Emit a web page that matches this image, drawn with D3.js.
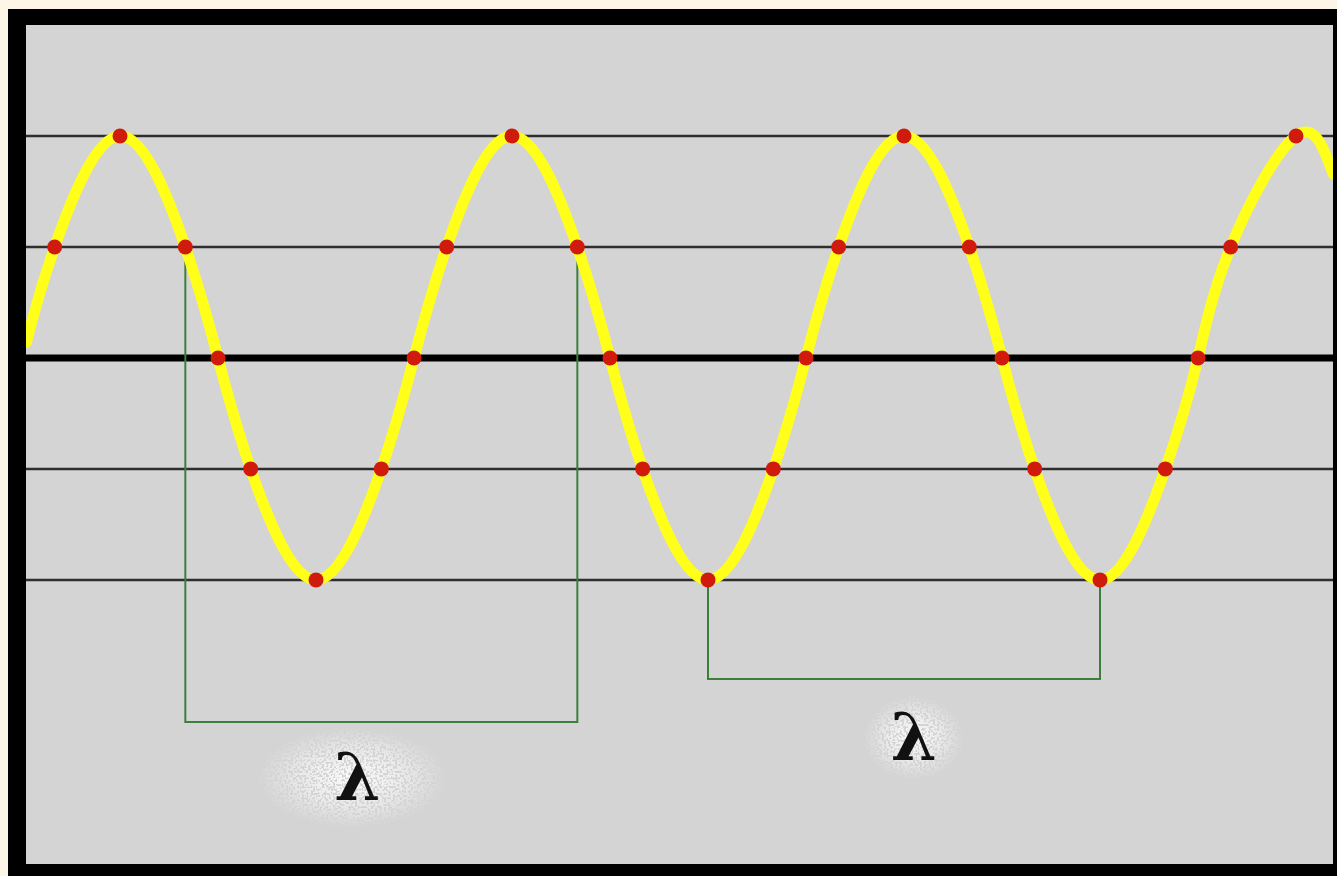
<!DOCTYPE html>
<html>
<head>
<meta charset="utf-8">
<script src="https://cdn.jsdelivr.net/npm/d3@7"></script>
<style>
  html, body { margin: 0; padding: 0; background: #fdf5e6; overflow: hidden; }
  svg { display: block; }
</style>
</head>
<body>
<svg id="chart" width="1337" height="876"></svg>
<script>
// ---- data (phase in degrees, displacement in amplitude units) ----
const wavePhase = [-86, -60, 0, 60, 90, 120, 180, 240, 270, 300, 360, 420, 450, 480, 540, 600, 630, 660, 720, 780, 810, 840, 900, 960, 990, 1020, 1080, 1114];
const waveValue = [0.07, 0.5, 1, 0.5, 0, -0.5, -1, -0.5, 0, 0.5, 1, 0.5, 0, -0.5, -1, -0.5, 0, 0.5, 1, 0.5, 0, -0.5, -1, -0.5, 0, 0.5, 1, 0.83];
// red markers: every wave point except the two edge points
const dotPhase = [-60, 0, 60, 90, 120, 180, 240, 270, 300, 360, 420, 450, 480, 540, 600, 630, 660, 720, 780, 810, 840, 900, 960, 990, 1020, 1080];
const dotValue = [0.5, 1, 0.5, 0, -0.5, -1, -0.5, 0, 0.5, 1, 0.5, 0, -0.5, -1, -0.5, 0, 0.5, 1, 0.5, 0, -0.5, -1, -0.5, 0, 0.5, 1];
// horizontal reference lines
const gridValues = [1, 0.5, -0.5, -1];
const axisValue = [0];
// wavelength brackets: start phase, end phase, top value, bottom value
const bracketStart = [60, 540];
const bracketEnd = [420, 900];
const bracketTop = [0.5, -1];
const bracketBottom = [-1.64, -1.446];
// labels
const labelText = ["λ", "λ"];
const labelPhase = [218, 729];
const labelValue = [-1.99, -1.81];

// ---- layout ----
const svg = d3.select("#chart");
const plot = { left: 26, right: 1333, top: 25, bottom: 864 };

const x = d3.scaleLinear().domain([-86.33, 1113.98]).range([plot.left, plot.right]);
const y = d3.scaleLinear().domain([1.5, -2.28]).range([plot.top, plot.bottom]);

// outer black frame
svg.append("rect").attr("x", 8).attr("y", 9).attr("width", 1337 - 8 + 2).attr("height", 876 - 9 + 2).attr("fill", "#000");
// grey plot area
svg.append("rect").attr("x", plot.left).attr("y", plot.top)
  .attr("width", plot.right - plot.left).attr("height", plot.bottom - plot.top)
  .attr("fill", "#d4d4d4");

const defs = svg.append("defs");
defs.append("clipPath").attr("id", "clip").append("rect")
  .attr("x", plot.left).attr("y", plot.top)
  .attr("width", plot.right - plot.left).attr("height", plot.bottom - plot.top);

const halo = defs.append("radialGradient").attr("id", "halo");
halo.append("stop").attr("offset", "0%").attr("stop-color", "#fff").attr("stop-opacity", 0.9);
halo.append("stop").attr("offset", "55%").attr("stop-color", "#fff").attr("stop-opacity", 0.5);
halo.append("stop").attr("offset", "100%").attr("stop-color", "#fff").attr("stop-opacity", 0);

const speck = defs.append("filter").attr("id", "speck").attr("x", "0").attr("y", "0").attr("width", "100%").attr("height", "100%");
speck.append("feTurbulence").attr("type", "fractalNoise").attr("baseFrequency", 0.45).attr("numOctaves", 1).attr("seed", 7).attr("result", "noise");
speck.append("feColorMatrix").attr("in", "noise").attr("type", "matrix")
  .attr("values", "0 0 0 0 1  0 0 0 0 1  0 0 0 0 1  0 0 0 -14 8").attr("result", "dots");
speck.append("feComposite").attr("in", "dots").attr("in2", "SourceGraphic").attr("operator", "in");

const g = svg.append("g").attr("clip-path", "url(#clip)");

// grid lines
g.selectAll("line.grid").data(gridValues).join("line")
  .attr("class", "grid")
  .attr("x1", plot.left).attr("x2", plot.right)
  .attr("y1", d => y(d)).attr("y2", d => y(d))
  .attr("stroke", "#2e2e2e").attr("stroke-width", 2.5);

// zero axis
g.selectAll("line.axis").data(axisValue).join("line")
  .attr("class", "axis")
  .attr("x1", plot.left).attr("x2", plot.right)
  .attr("y1", d => y(d)).attr("y2", d => y(d))
  .attr("stroke", "#000").attr("stroke-width", 7);

// brackets
const brackets = bracketStart.map((s, i) => ({ s, e: bracketEnd[i], t: bracketTop[i], b: bracketBottom[i] }));
g.selectAll("path.bracket").data(brackets).join("path")
  .attr("class", "bracket")
  .attr("d", d => `M${x(d.s)},${y(d.t)}V${y(d.b)}H${x(d.e)}V${y(d.t)}`)
  .attr("fill", "none").attr("stroke", "#3b7f3b").attr("stroke-width", 2);

// wave
const wave = wavePhase.map((p, i) => [p, waveValue[i]]);
g.append("path")
  .datum(wave)
  .attr("d", d3.line().x(d => x(d[0])).y(d => y(d[1])).curve(d3.curveNatural))
  .attr("fill", "none").attr("stroke", "#ffff1a").attr("stroke-width", 11)
  .attr("stroke-linecap", "round");

// dots
const dots = dotPhase.map((p, i) => [p, dotValue[i]]);
g.selectAll("circle.dot").data(dots).join("circle")
  .attr("class", "dot")
  .attr("cx", d => x(d[0])).attr("cy", d => y(d[1]))
  .attr("r", 7.5).attr("fill", "#d01a0c");

// lambda labels with speckled halo
const labels = labelText.map((t, i) => ({ t, p: labelPhase[i], v: labelValue[i], big: i === 0 }));
const lg = g.selectAll("g.label").data(labels).join("g").attr("class", "label");
lg.append("ellipse")
  .attr("cx", d => x(d.p) - (d.big ? 5 : 0)).attr("cy", d => y(d.v) - 22)
  .attr("rx", d => d.big ? 95 : 50).attr("ry", d => d.big ? 50 : 42)
  .attr("fill", "url(#halo)").attr("filter", "url(#speck)");
lg.append("text")
  .attr("x", d => x(d.p)).attr("y", d => y(d.v))
  .attr("text-anchor", "middle")
  .attr("font-family", "DejaVu Serif, Liberation Serif, serif")
  .attr("font-size", 66).attr("font-weight", "bold")
  .attr("fill", "#111")
  .text(d => d.t);
</script>
</body>
</html>
